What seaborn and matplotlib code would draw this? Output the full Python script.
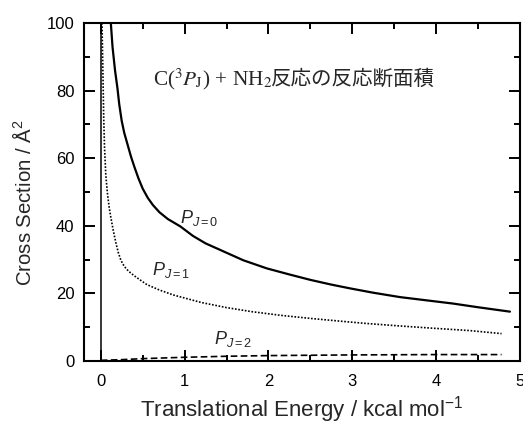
import matplotlib
matplotlib.use("Agg")
import matplotlib.pyplot as plt
import seaborn as sns
import pandas as pd
from matplotlib.ticker import MultipleLocator

# ---- data ----
e_j0 = [0.12, 0.14, 0.17, 0.20, 0.22, 0.25, 0.28, 0.32, 0.36, 0.40, 0.45, 0.50, 0.56, 0.62,
        0.70, 0.80, 0.95, 1.10, 1.25, 1.43, 1.70, 1.98, 2.25, 2.50, 2.75, 2.97, 3.25,
        3.57, 3.90, 4.20, 4.50, 4.88]
cs_j0 = [100, 93, 86, 80.5, 76, 71, 67.5, 64, 60.5, 57.5, 54, 51, 48.3, 46.2,
         44, 42, 39.8, 37, 34.8, 32.8, 29.8, 27.4, 25.6, 24.0, 22.6, 21.5, 20.2,
         18.9, 17.9, 17.0, 15.9, 14.6]

e_j1 = [0.015, 0.025, 0.035, 0.045, 0.06, 0.08, 0.10, 0.12, 0.15, 0.18, 0.21, 0.24, 0.28,
        0.33, 0.40, 0.48, 0.55, 0.70, 0.87, 1.05, 1.20, 1.50, 1.80, 2.15, 2.50, 2.85,
        3.17, 3.55, 3.96, 4.40, 4.78]
cs_j1 = [100, 86, 72, 63, 55, 49.5, 45.5, 42.5, 38.5, 35, 32, 29.8, 28,
         26.6, 25.2, 23.8, 22.6, 21, 19.5, 18.3, 17.3, 15.8, 14.6, 13.5, 12.6, 11.8,
         11.1, 10.4, 9.7, 9.0, 8.1]

e_j2 = [0.0, 0.25, 0.5, 0.75, 1.0, 1.5, 2.0, 2.5, 3.0, 3.5, 4.0, 4.5, 4.78]
cs_j2 = [0.2, 0.4, 0.7, 0.9, 1.1, 1.4, 1.6, 1.7, 1.8, 1.85, 1.9, 1.9, 1.9]

x_ticks = [0, 1, 2, 3, 4, 5]
y_ticks = [0, 20, 40, 60, 80, 100]

title_formula = r"C($^{3}\mathit{P}_{\mathrm{J}}$) + NH$_{2}$"
title_jp = "反応の反応断面積"
labels = [r"$P_{J=0}$", r"$P_{J=1}$", r"$P_{J=2}$"]
label_pos = [(0.95, 40.8), (0.61, 25.4), (1.35, 5.0)]

sns.set_theme(style="ticks")
plt.rcParams["font.family"] = ["Liberation Sans", "DejaVu Sans"]
plt.rcParams["mathtext.fontset"] = "custom"
plt.rcParams["mathtext.it"] = "Liberation Sans:italic"
plt.rcParams["mathtext.rm"] = "Liberation Sans"
plt.rcParams["mathtext.sf"] = "Liberation Sans"

fig = plt.figure(figsize=(5.23, 4.25), dpi=100)
ax = fig.add_axes([84 / 523, 1 - 361 / 425, (520 - 84) / 523, (361 - 23) / 425])

df0 = pd.DataFrame({"E": e_j0, "CS": cs_j0})
df1 = pd.DataFrame({"E": e_j1, "CS": cs_j1})
df2 = pd.DataFrame({"E": e_j2, "CS": cs_j2})

sns.lineplot(data=df0, x="E", y="CS", ax=ax, color="black", lw=1.6, sort=False)
sns.lineplot(data=df1, x="E", y="CS", ax=ax, color="black", lw=1.2, sort=False,
             linestyle=(0, (1, 1)))
sns.lineplot(data=df2, x="E", y="CS", ax=ax, color="black", lw=1.2, sort=False,
             linestyle=(0, (4, 2)))
ax.axvline(0, color="black", lw=1.1)

ax.set_xlim(-0.2, 5)
ax.set_ylim(0, 100)
ax.set_xticks(x_ticks)
ax.set_yticks(y_ticks)
ax.xaxis.set_minor_locator(MultipleLocator(0.5))
ax.yaxis.set_minor_locator(MultipleLocator(10))
ax.tick_params(which="both", direction="in", top=True, right=True, width=1.4,
               labelsize=12, colors="black")
ax.tick_params(which="major", length=8)
ax.tick_params(which="minor", length=4.3)
ax.tick_params(axis="y", pad=7)
ax.tick_params(axis="x", pad=9)
for s in ax.spines.values():
    s.set_linewidth(1.5)
    s.set_color("black")

ax.set_xlabel("Translational Energy / kcal mol$^{\\mathregular{-1}}$", fontsize=16, labelpad=4)
ax.set_ylabel("Cross Section / Å$^{\\mathregular{2}}$", fontsize=14.7)
ax.yaxis.set_label_coords(-0.113, 0.47)

ax.text(0.62, 81.7, title_formula, fontsize=15.3, math_fontfamily="stix",
        family=["Liberation Serif", "DejaVu Serif"], va="baseline", ha="left")
ax.text(2.03, 81.7, title_jp, fontsize=14.8, va="baseline", ha="left",
        family=["Noto Sans CJK JP", "DejaVu Sans"])

for lab, (x, y) in zip(labels, label_pos):
    ax.text(x, y, lab, fontsize=13, ha="left", va="baseline")

fig.savefig("out.png", dpi=100)
